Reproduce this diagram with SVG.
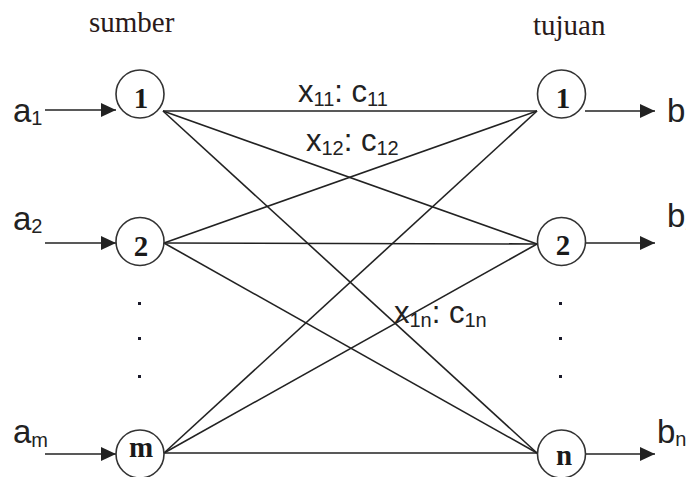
<svg xmlns="http://www.w3.org/2000/svg" width="686" height="477" viewBox="0 0 686 477">
<style>
.node circle{fill:#fff;stroke:#333;stroke-width:1.6}
.num{font-family:"Liberation Serif","Times New Roman",serif;font-weight:bold;font-size:29px;fill:#1a1a1a;text-anchor:middle}
.edge{stroke:#222;stroke-width:1.6;fill:none}
.arr{stroke:#222;stroke-width:1.6;fill:none;marker-end:url(#ah)}
.lab{font-family:"Liberation Sans",Arial,sans-serif;font-size:33px;fill:#222}
.cl{font-family:"Liberation Sans",Arial,sans-serif;font-size:31px;fill:#222}
.sub{font-size:20px}
.hd{font-family:"Liberation Serif","Times New Roman",serif;font-size:29px;fill:#2a1a1a}
.dot{fill:#1a1a2a}
</style>
<defs>
<marker id="ah" markerWidth="16" markerHeight="14" refX="15" refY="7" orient="auto" markerUnits="userSpaceOnUse">
<path d="M0,0 L15,7 L0,14 Z" fill="#222"/>
</marker>
</defs>
<rect width="686" height="477" fill="#fff"/>
<text class="hd" x="89" y="32">sumber</text>
<text class="hd" x="533" y="35">tujuan</text>
<g id="connectors">
<line class="edge" x1="163" y1="111" x2="537" y2="111"/>
<line class="edge" x1="163" y1="111" x2="537" y2="244"/>
<line class="edge" x1="163" y1="111" x2="537" y2="453"/>
<line class="edge" x1="164" y1="243" x2="537" y2="111"/>
<line class="edge" x1="164" y1="243" x2="537" y2="244"/>
<line class="edge" x1="164" y1="243" x2="537" y2="453"/>
<line class="edge" x1="164" y1="453" x2="537" y2="111"/>
<line class="edge" x1="164" y1="453" x2="537" y2="244"/>
<line class="edge" x1="164" y1="453" x2="537" y2="453"/>
<line class="arr" x1="45" y1="110" x2="116" y2="110"/>
<line class="arr" x1="45" y1="243" x2="116" y2="243"/>
<line class="arr" x1="45" y1="454" x2="116" y2="454"/>
<line class="arr" x1="585" y1="111" x2="655" y2="111"/>
<line class="arr" x1="585" y1="243" x2="655" y2="243"/>
<line class="arr" x1="585" y1="454" x2="655" y2="454"/>
</g>
<g id="src1" class="node"><circle cx="140" cy="94" r="24"/><text class="num" x="141" y="108">1</text></g>
<g id="src2" class="node"><circle cx="140" cy="241.5" r="24"/><text class="num" x="141" y="256">2</text></g>
<g id="srcm" class="node"><circle cx="140" cy="454" r="24"/><text class="num" x="141" y="457">m</text></g>
<g id="dst1" class="node"><circle cx="561.5" cy="94" r="24"/><text class="num" x="563" y="108">1</text></g>
<g id="dst2" class="node"><circle cx="561.5" cy="241.5" r="24"/><text class="num" x="563" y="255">2</text></g>
<g id="dstn" class="node"><circle cx="561.5" cy="454" r="24"/><text class="num" x="564" y="465">n</text></g>
<g id="dots">
<rect class="dot" x="138" y="302" width="3" height="3"/>
<rect class="dot" x="138" y="337" width="3" height="3"/>
<rect class="dot" x="138" y="375" width="3" height="3"/>
<rect class="dot" x="559" y="302" width="3" height="3"/>
<rect class="dot" x="559" y="337" width="3" height="3"/>
<rect class="dot" x="559" y="375" width="3" height="3"/>
</g>
<g id="labels">
<text class="lab" x="13" y="122">a<tspan class="sub" dy="3">1</tspan></text>
<text class="lab" x="13" y="230">a<tspan class="sub" dy="3">2</tspan></text>
<text class="lab" x="13" y="443">a<tspan class="sub" dy="4">m</tspan></text>
<text class="lab" x="667" y="122">b<tspan class="sub" dy="3">1</tspan></text>
<text class="lab" x="667" y="227">b<tspan class="sub" dy="3">2</tspan></text>
<text class="lab" x="657" y="443">b<tspan class="sub" dy="3">n</tspan></text>
<text class="cl" x="298" y="102">x<tspan class="sub" dy="4">11</tspan><tspan dy="-4">: c</tspan><tspan class="sub" dy="4">11</tspan></text>
<text class="cl" x="306" y="151">x<tspan class="sub" dy="4">12</tspan><tspan dy="-4">: c</tspan><tspan class="sub" dy="4">12</tspan></text>
<text class="cl" x="394" y="323">x<tspan class="sub" dy="4">1n</tspan><tspan dy="-4">: c</tspan><tspan class="sub" dy="4">1n</tspan></text>
</g>
</svg>
